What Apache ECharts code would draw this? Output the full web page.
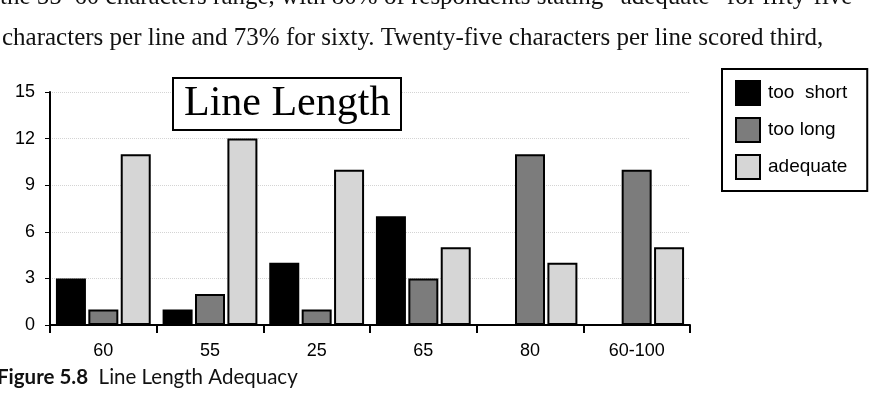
<!DOCTYPE html>
<html><head><meta charset="utf-8">
<script src="https://cdn.jsdelivr.net/npm/echarts@6/dist/echarts.min.js"></script>
<style>html,body{margin:0;padding:0;background:#fff}#c{width:871px;height:400px}</style>
</head><body><div id="c"></div>
<script>
const categories = ['60', '55', '25', '65', '80', '60-100'];
const tooShort = [3, 1, 4, 7, 0, 0];
const tooLong = [1, 2, 1, 3, 11, 10];
const adequate = [11, 12, 10, 5, 4, 5];
const seriesNames = ['too  short', 'too long', 'adequate'];
const yTicks = [0, 3, 6, 9, 12, 15];
const bodyLine1 = 'the 55–60 characters range, with 80% of respondents stating “adequate” for fifty-five';
const bodyLine2 = 'characters per line and 73% for sixty. Twenty-five characters per line scored third,';
const chartTitle = 'Line Length';
const captionBold = 'Figure 5.8';
const captionRest = 'Line Length Adequacy';

const chart = echarts.init(document.getElementById('c'), null, {renderer: 'canvas'});
const sans = 'Liberation Sans, Arial, Helvetica, sans-serif';
const serif = 'Liberation Serif, Times New Roman, serif';
const bar = (name, data, color) => ({
  name, type: 'bar', data,
  barWidth: 30, barGap: '8%', barCategoryGap: '10%',
  itemStyle: {color, borderColor: '#000', borderWidth: 2},
  emphasis: {disabled: true}
});
chart.setOption({
  animation: false,
  backgroundColor: '#fff',
  title: {
    text: chartTitle, left: 173, top: 78,
    padding: [5, 11, 5, 11],
    borderColor: '#000', borderWidth: 2, backgroundColor: '#fff',
    textStyle: {fontFamily: serif, fontSize: 42, fontWeight: 'normal', color: '#000'}
  },
  legend: {
    orient: 'vertical', left: 722, top: 69,
    padding: [11, 20, 11, 13], itemGap: 11, itemWidth: 24, itemHeight: 24, icon: 'rect',
    borderColor: '#000', borderWidth: 2, borderRadius: 0, backgroundColor: '#fff',
    textStyle: {fontFamily: sans, fontSize: 19, color: '#000', padding: [0, 0, 0, 3]},
    data: seriesNames
  },
  grid: {left: 50, right: 181, top: 92, bottom: 75, containLabel: false},
  xAxis: {
    type: 'category', data: categories,
    axisLine: {lineStyle: {color: '#000', width: 2}},
    axisTick: {show: true, alignWithLabel: false, length: 8, lineStyle: {color: '#000', width: 2}},
    axisLabel: {fontFamily: sans, fontSize: 18, color: '#000', margin: 17}
  },
  yAxis: {
    type: 'value', min: 0, max: 15, interval: 3,
    axisLine: {show: true, lineStyle: {color: '#000', width: 2}},
    axisTick: {show: true, length: 5, lineStyle: {color: '#000', width: 1}},
    axisLabel: {fontFamily: sans, fontSize: 18, color: '#000', margin: 15,
      formatter: v => yTicks.includes(v) ? String(v) : ''},
    splitLine: {show: true, lineStyle: {color: '#d4d4d4', type: 'dotted', width: 1}}
  },
  series: [
    bar(seriesNames[0], tooShort, '#000000'),
    bar(seriesNames[1], tooLong, '#7c7c7c'),
    bar(seriesNames[2], adequate, '#d6d6d6')
  ],
  graphic: [
    {type: 'text', left: 0, top: -15, style: {text: bodyLine1, font: '25px ' + serif, fill: '#111'}},
    {type: 'text', left: 2, top: 26, style: {text: bodyLine2, font: '25px ' + serif, fill: '#111'}},
    {type: 'text', left: -3, top: 367, style: {
      text: '{b|' + captionBold + '}  ' + captionRest,
      font: '20.5px Lato, sans-serif', fill: '#111',
      rich: {b: {fontFamily: 'Lato, sans-serif', fontWeight: 'bold', fontSize: 20.5, fill: '#111'}}
    }}
  ]
});
</script></body></html>
